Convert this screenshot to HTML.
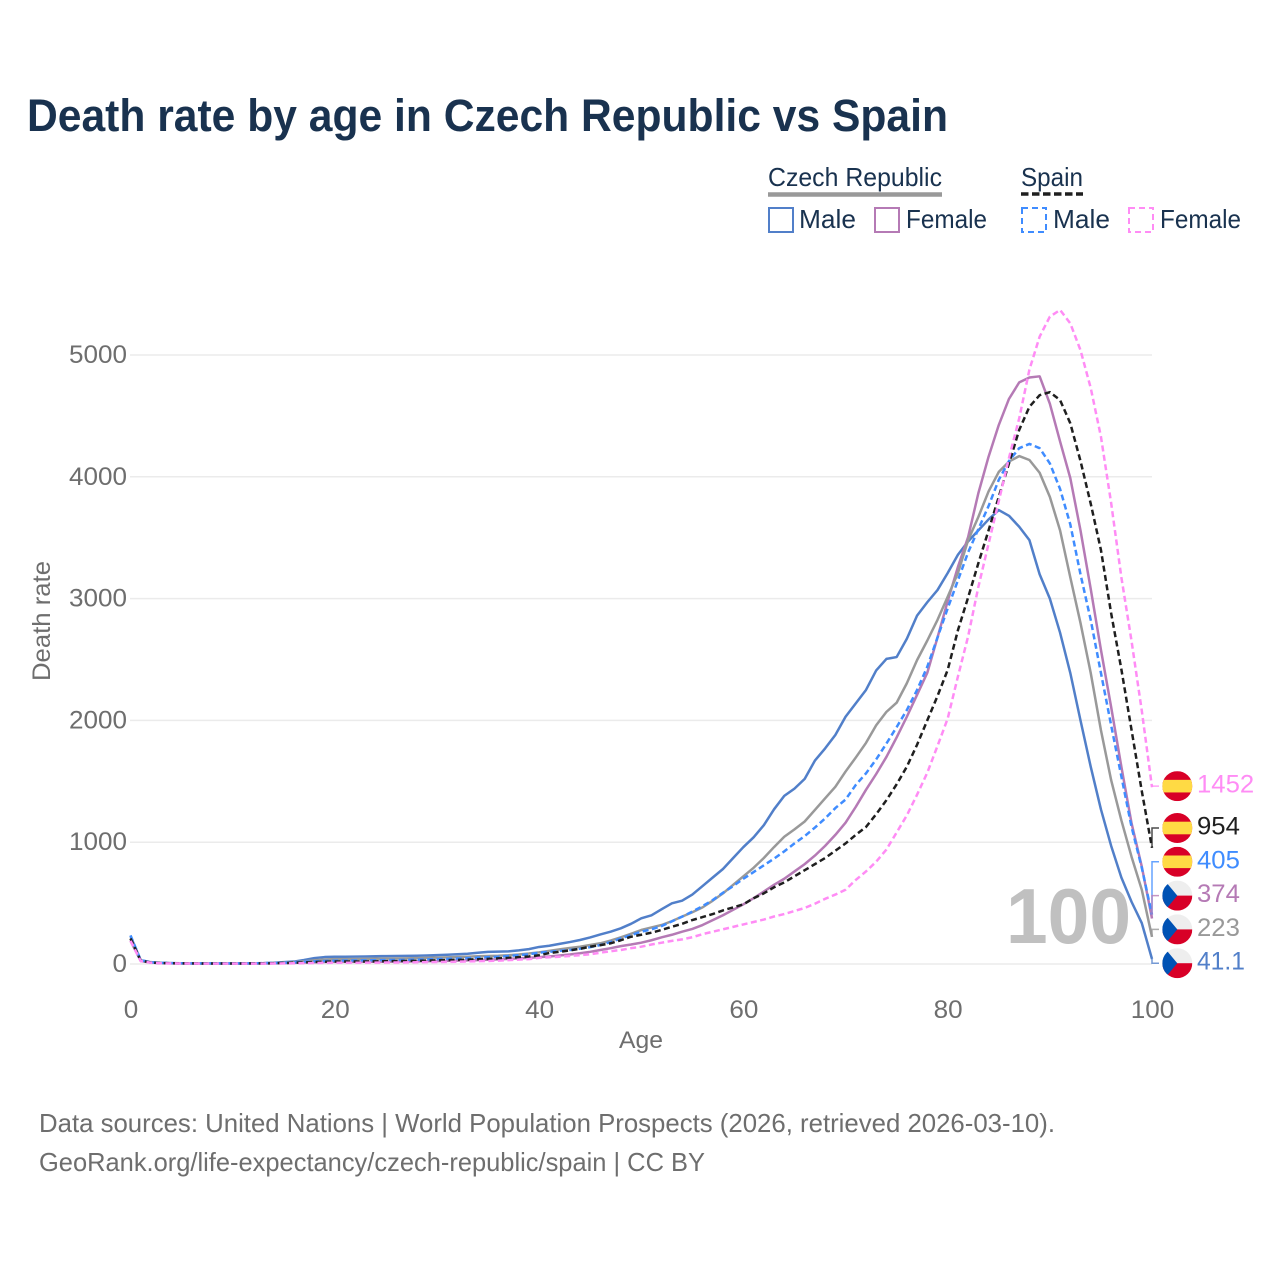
<!DOCTYPE html>
<html lang="en">
<head>
<meta charset="utf-8">
<title>Death rate by age in Czech Republic vs Spain</title>
<style>
html,body{margin:0;padding:0;background:#fff;}
svg{display:block;}
text{font-family:"Liberation Sans",sans-serif;}
</style>
</head>
<body>
<svg id="chart" width="1280" height="1280" viewBox="0 0 1280 1280" xmlns="http://www.w3.org/2000/svg">
  <rect x="0" y="0" width="1280" height="1280" fill="#ffffff"/>
  <text x="27" y="131" font-size="45" font-weight="700" fill="#19324f" textLength="921" lengthAdjust="spacingAndGlyphs">Death rate by age in Czech Republic vs Spain</text>

  <g>
    <text x="768" y="186" font-size="26" fill="#19324f" textLength="174" lengthAdjust="spacingAndGlyphs">Czech Republic</text>
    <line x1="768" y1="194.5" x2="942" y2="194.5" stroke="#999999" stroke-width="4.5"/>
    <text x="1021" y="186" font-size="26" fill="#19324f" textLength="62" lengthAdjust="spacingAndGlyphs">Spain</text>
    <line x1="1021" y1="194" x2="1083" y2="194" stroke="#1f1f1f" stroke-width="3.5" stroke-dasharray="7.5,3.5"/>
    <rect x="769" y="208" width="24" height="24" fill="none" stroke="#517fc9" stroke-width="2"/>
    <text x="799" y="228" font-size="26" fill="#19324f" textLength="57" lengthAdjust="spacingAndGlyphs">Male</text>
    <rect x="875" y="208" width="24" height="24" fill="none" stroke="#b57ab5" stroke-width="2"/>
    <text x="906" y="228" font-size="26" fill="#19324f" textLength="81" lengthAdjust="spacingAndGlyphs">Female</text>
    <rect x="1022" y="208" width="24" height="24" fill="none" stroke="#3f8cff" stroke-width="2" stroke-dasharray="6,4"/>
    <text x="1053" y="228" font-size="26" fill="#19324f" textLength="57" lengthAdjust="spacingAndGlyphs">Male</text>
    <rect x="1129" y="208" width="24" height="24" fill="none" stroke="#ff8cf5" stroke-width="2" stroke-dasharray="6,4"/>
    <text x="1160" y="228" font-size="26" fill="#19324f" textLength="81" lengthAdjust="spacingAndGlyphs">Female</text>
  </g>

  <g id="grid"></g>
  <g id="y-ticks"></g>
  <g id="x-ticks"></g>
  <text x="641" y="1048" font-size="24" fill="#6e6e6e" text-anchor="middle" textLength="44" lengthAdjust="spacingAndGlyphs">Age</text>
  <text x="0" y="0" transform="translate(50,621) rotate(-90)" font-size="25" fill="#6e6e6e" text-anchor="middle" textLength="120" lengthAdjust="spacingAndGlyphs">Death rate</text>

  <text x="1006" y="943" font-size="78" font-weight="700" fill="#c0c0c0" textLength="125" lengthAdjust="spacingAndGlyphs">100</text>

  <g id="series"></g>
  <g id="end-labels"></g>

  <text x="39" y="1132" font-size="26" fill="#6e6e6e" textLength="1016" lengthAdjust="spacingAndGlyphs">Data sources: United Nations | World Population Prospects (2026, retrieved 2026-03-10).</text>
  <text x="39" y="1171" font-size="26" fill="#6e6e6e" textLength="666" lengthAdjust="spacingAndGlyphs">GeoRank.org/life-expectancy/czech-republic/spain | CC BY</text>
</svg>

<script>
const ages = [
  0,1,2,3,4,5,6,7,8,9,
  10,11,12,13,14,15,16,17,18,19,
  20,21,22,23,24,25,26,27,28,29,
  30,31,32,33,34,35,36,37,38,39,
  40,41,42,43,44,45,46,47,48,49,
  50,51,52,53,54,55,56,57,58,59,
  60,61,62,63,64,65,66,67,68,69,
  70,71,72,73,74,75,76,77,78,79,
  80,81,82,83,84,85,86,87,88,89,
  90,91,92,93,94,95,96,97,98,99,100
];
const czechMale = [
  230,30,15,9,7,6,5,5,5,5,
  5,5,6,7,10,15,20,33,48,57,
  60,60,61,62,64,65,66,67,68,70,
  73,76,80,84,92,100,102,104,112,122,
  140,150,165,180,197,218,243,265,293,330,
  375,400,450,498,520,570,640,710,780,870,
  960,1040,1140,1270,1380,1440,1520,1670,1770,1880,
  2030,2140,2250,2410,2505,2520,2670,2860,2970,3070,
  3210,3360,3470,3560,3650,3727,3680,3590,3480,3200,
  3000,2720,2390,2000,1620,1270,970,710,510,336,41.1
];
const czechFemale = [
  190,25,11,7,5,4,4,3,3,3,
  3,3,3,4,5,7,9,12,14,16,
  17,17,17,18,19,19,20,21,22,23,
  24,26,28,30,32,35,38,42,46,50,
  56,62,70,78,88,100,115,130,147,160,
  175,195,219,240,265,288,320,360,400,445,
  490,540,595,650,700,760,820,890,970,1060,
  1160,1290,1430,1560,1700,1860,2030,2210,2390,2680,
  2980,3260,3505,3865,4165,4425,4640,4775,4815,4825,
  4600,4290,3990,3560,3080,2580,2110,1620,1155,800,374
];
const czechTotal = [
  205,28,13,8,6,5,5,4,4,4,
  4,4,5,6,8,11,15,22,30,37,
  40,40,41,42,43,44,45,46,48,50,
  52,54,57,60,64,66,68,72,78,86,
  96,108,120,131,142,156,170,192,219,248,
  279,300,320,352,389,425,465,520,580,650,
  720,790,870,960,1045,1105,1170,1265,1360,1455,
  1580,1695,1815,1960,2070,2145,2305,2495,2655,2825,
  3015,3210,3480,3670,3880,4040,4125,4170,4138,4033,
  3835,3560,3175,2800,2390,1920,1510,1180,880,610,223
];
const spainMale = [
  235,32,14,9,7,6,5,5,5,5,
  5,5,6,7,8,10,13,18,22,25,
  27,28,29,30,31,32,33,34,36,38,
  40,42,45,48,52,56,60,66,72,80,
  93,100,108,115,125,138,156,180,210,237,
  265,285,312,350,389,430,475,525,585,640,
  700,755,810,865,925,990,1050,1120,1195,1280,
  1350,1470,1565,1680,1810,1945,2085,2250,2440,2680,
  2920,3150,3380,3570,3760,3975,4130,4235,4270,4235,
  4110,3900,3610,3200,2825,2390,1960,1540,1125,790,405
];
const spainTotal = [
  210,28,12,8,6,5,5,4,4,4,
  4,4,5,5,6,8,10,13,16,18,
  20,20,21,21,22,23,24,25,26,28,
  30,32,34,36,39,42,46,50,56,62,
  72,90,100,112,125,142,155,170,195,224,
  240,257,280,306,330,361,385,410,440,465,
  490,540,580,630,670,720,770,820,870,930,
  990,1060,1125,1230,1345,1475,1620,1800,2000,2200,
  2415,2740,3010,3290,3560,3835,4110,4385,4575,4670,
  4695,4630,4440,4130,3780,3400,2880,2420,1920,1420,954
];
const spainFemale = [
  190,24,10,6,5,4,4,3,3,3,
  3,3,3,3,4,5,6,7,8,9,
  10,10,10,11,11,12,12,13,14,15,
  16,17,19,21,23,25,28,32,36,40,
  50,55,60,66,72,80,93,105,115,130,
  142,160,175,190,202,220,245,265,285,305,
  325,345,365,390,410,435,460,495,535,570,
  610,690,760,840,940,1080,1220,1390,1570,1790,
  2015,2360,2690,3095,3450,3800,4155,4480,4880,5150,
  5315,5370,5260,5040,4730,4330,3785,3175,2650,2080,1452
];
const yTickValues = [0,1000,2000,3000,4000,5000];
const xTickValues = [0,20,40,60,80,100];

const seriesList = [
  {name:'czech-male',   values:czechMale,   color:'#517fc9', dash:'',    flag:'cz'},
  {name:'czech-female', values:czechFemale, color:'#b57ab5', dash:'',    flag:'cz'},
  {name:'czech-total',  values:czechTotal,  color:'#999999', dash:'',    flag:'cz'},
  {name:'spain-male',   values:spainMale,   color:'#3f8cff', dash:'6,3.5', flag:'es'},
  {name:'spain-total',  values:spainTotal,  color:'#1f1f1f', dash:'6,3.5', flag:'es'},
  {name:'spain-female', values:spainFemale, color:'#ff8cf5', dash:'6,3.5', flag:'es'}
];

const NS = 'http://www.w3.org/2000/svg';
function xScale(a){ return 130.5 + (a / 100) * (1152 - 130.5); }
function yScale(v){ return 964 - (v / 5000) * (964 - 355); }
function make(tag, attrs, parent){
  const el = document.createElementNS(NS, tag);
  for (const k in attrs) el.setAttribute(k, attrs[k]);
  parent.appendChild(el);
  return el;
}

const gridG = document.getElementById('grid');
const yG = document.getElementById('y-ticks');
const xG = document.getElementById('x-ticks');
yTickValues.forEach(function(v){
  const gl = make('line', {x1:130, x2:1152, y1:yScale(v), y2:yScale(v), stroke:'#ebebeb', 'stroke-width':1.5}, gridG);
  
  
  const t = make('text', {x:127, y:yScale(v) + 8, 'font-size':25, fill:'#6e6e6e', 'text-anchor':'end'}, yG);
  t.textContent = String(v);
  t.setAttribute('textLength', String(v).length * 14.5);
  t.setAttribute('lengthAdjust', 'spacingAndGlyphs');
  
  
});
xTickValues.forEach(function(v){
  const t = make('text', {x:xScale(v) + 0.5, y:1018, 'font-size':25, fill:'#6e6e6e', 'text-anchor':'middle'}, xG);
  t.textContent = String(v);
  t.setAttribute('textLength', String(v).length * 14.5);
  t.setAttribute('lengthAdjust', 'spacingAndGlyphs');
  
  
});

const seriesG = document.getElementById('series');
seriesList.forEach(function(s){
  const pts = s.values.map(function(v, i){ return xScale(ages[i]).toFixed(2) + ',' + yScale(v).toFixed(2); }).join(' ');
  const line = make('polyline', {points:pts, fill:'none', stroke:s.color, 'stroke-width':2.5, 'stroke-linejoin':'round'}, seriesG);
  if (s.dash) line.setAttribute('stroke-dasharray', s.dash);
  
  
});

/* flag clip */
const defs = make('defs', {}, document.getElementById('chart'));
const clip = make('clipPath', {id:'flag-clip'}, defs);
make('circle', {cx:0, cy:0, r:15}, clip);

function drawFlag(kind, parent){
  const g = make('g', {'clip-path':'url(#flag-clip)'}, parent);
  if (kind === 'es') {
    make('rect', {x:-15, y:-15, width:30, height:30, fill:'#d80027'}, g);
    make('rect', {x:-15, y:-6.3, width:30, height:12.6, fill:'#ffda44'}, g);
  } else {
    make('rect', {x:-15, y:-15, width:30, height:15, fill:'#eeeeee'}, g);
    make('rect', {x:-15, y:0, width:30, height:15, fill:'#d80027'}, g);
    make('polygon', {points:'-15,-18 0,0 -15,18', fill:'#0052b4'}, g);
  }
  return g;
}
function formatEnd(v){ return v < 100 ? v.toFixed(1) : String(Math.round(v)); }

/* end labels sorted top-down and pushed apart from the series end values */
const endG = document.getElementById('end-labels');
const minGap = 33.8, maxLabelY = 963.2;
const placed = seriesList.map(function(s){
  const last = s.values[s.values.length - 1];
  return {s:s, last:last, endY:yScale(last), y:yScale(last) - 1};
}).sort(function(a, b){ return a.endY - b.endY; });
for (let i = 1; i < placed.length; i++) {
  if (placed[i].y < placed[i-1].y + minGap) placed[i].y = placed[i-1].y + minGap;
}
for (let i = placed.length - 1; i >= 0; i--) {
  const limit = i === placed.length - 1 ? maxLabelY : placed[i+1].y - minGap;
  if (placed[i].y > limit) placed[i].y = limit;
}
placed.forEach(function(p){
  const leader = make('polyline', {points:'1152,' + p.endY.toFixed(2) + ' 1152,' + p.y.toFixed(2) + ' 1159,' + p.y.toFixed(2), fill:'none', stroke:p.s.color, 'stroke-width':1.5, 'stroke-opacity':0.8}, endG);
  
  

  const holder = make('g', {transform:'translate(1177.3,' + p.y.toFixed(2) + ')'}, endG);
  
  
  drawFlag(p.s.flag, holder);

  const label = make('text', {x:1197, y:(p.y + 6.5).toFixed(2), 'font-size':25, fill:p.s.color}, endG);
  const txt = formatEnd(p.last);
  label.textContent = txt;
  label.setAttribute('textLength', txt.replace('.', '').length * 14.3 + (txt.indexOf('.') >= 0 ? 5 : 0));
  label.setAttribute('lengthAdjust', 'spacingAndGlyphs');
  
  
});
</script>
</body>
</html>
